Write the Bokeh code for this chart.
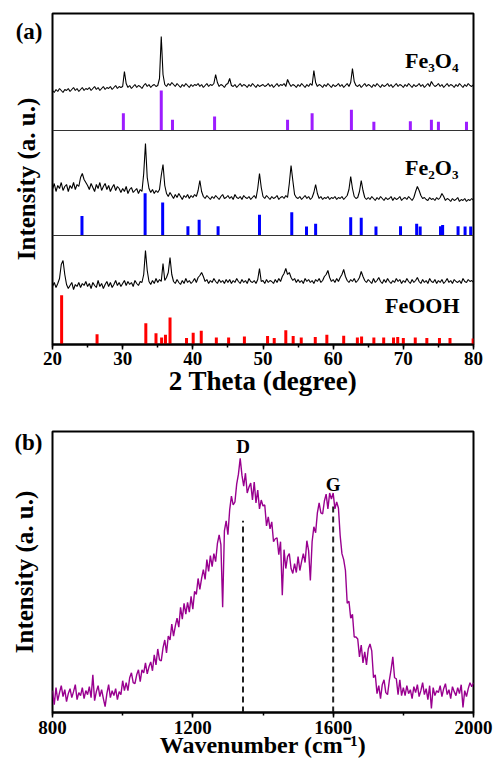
import numpy as np
from bokeh.plotting import figure
from bokeh.models import Range1d, SingleIntervalTicker, FixedTicker, Span, Label
from bokeh.layouts import column
from bokeh.embed import file_html
from bokeh.resources import INLINE

# ---------------- (a) XRD data ----------------
theta_start, theta_step = 20.0, 0.25
fe3o4_trace = [
    40, 38, 41, 39, 42, 40, 38, 41, 40, 42, 39, 41, 43, 40, 42, 39, 41, 43, 40, 42,
    41, 43, 40, 42, 44, 41, 43, 40, 42, 44, 41, 43, 42, 44, 41, 43, 45, 42, 44, 43,
    44, 59, 47, 43, 45, 42, 44, 46, 43, 45, 44, 42, 45, 47, 44, 46, 43, 45, 46, 44,
    45, 52, 94, 56, 46, 44, 47, 45, 48, 46, 44, 47, 45, 43, 46, 44, 47, 45, 43, 46,
    44, 46, 45, 47, 44, 46, 43, 45, 47, 44, 46, 45, 47, 56, 48, 44, 46, 45, 43, 46,
    47, 52, 45, 44, 46, 43, 45, 47, 44, 46, 45, 43, 46, 44, 47, 45, 43, 46, 44, 45,
    46, 44, 45, 47, 44, 46, 43, 45, 47, 44, 46, 45, 47, 44, 51, 47, 44, 46, 45, 43,
    46, 44, 47, 45, 43, 46, 44, 47, 45, 60, 48, 44, 46, 45, 43, 46, 44, 47, 45, 43,
    46, 44, 45, 47, 44, 46, 43, 45, 47, 44, 48, 62, 49, 45, 44, 46, 43, 45, 47, 44,
    46, 45, 43, 46, 44, 47, 45, 43, 46, 44, 45, 47, 44, 46, 43, 45, 47, 44, 46, 45,
    43, 46, 44, 47, 45, 43, 46, 44, 45, 47, 44, 46, 43, 45, 47, 44, 49, 46, 44, 45,
    47, 44, 46, 43, 45, 47, 44, 46, 45, 43, 46, 44, 47, 45, 43, 46, 44, 47, 45, 44,
    46]
fe2o3_trace = [
    46, 52, 44, 50, 47, 53, 45, 49, 51, 44, 50, 47, 53, 46, 51, 49, 58, 62, 56, 53,
    50, 46, 52, 48, 44, 51, 47, 53, 45, 49, 52, 46, 50, 44, 48, 51, 45, 49, 47, 43,
    47, 44, 49, 42, 46, 48, 43, 45, 47, 42, 46, 44, 62, 92, 58, 47, 43, 46, 42, 45,
    43, 46, 60, 71, 50, 42, 39, 43, 40, 37, 41, 38, 42, 39, 36, 40, 38, 41, 37, 40,
    38, 41, 39, 45, 55, 44, 39, 37, 40, 38, 36, 39, 37, 40, 38, 36, 39, 41, 37, 38,
    40, 37, 39, 36, 41, 38, 37, 39, 36, 40, 38, 37, 39, 36, 38, 40, 37, 47, 62, 48,
    39, 37, 40, 38, 36, 39, 37, 38, 40, 36, 38, 39, 37, 40, 38, 52, 70, 55, 41, 38,
    37, 39, 36, 38, 40, 37, 39, 36, 38, 43, 51, 42, 37, 39, 36, 38, 37, 39, 36, 38,
    37, 39, 36, 38, 37, 39, 36, 38, 40, 46, 59, 47, 39, 37, 38, 44, 55, 45, 38, 36,
    38, 36, 39, 37, 35, 38, 36, 39, 37, 35, 38, 36, 37, 39, 35, 38, 36, 37, 39, 35,
    37, 38, 36, 39, 37, 35, 38, 44, 49, 45, 40, 37, 38, 36, 35, 38, 36, 37, 35, 38,
    36, 38, 42, 39, 35, 37, 36, 34, 37, 35, 36, 38, 34, 36, 35, 37, 34, 36, 35, 37,
    35]
feooh_trace = [
    58, 62, 57, 61, 66, 80, 84, 70, 60, 56, 59, 62, 55, 60, 58, 62, 57, 61, 59, 63,
    58, 61, 56, 62, 59, 57, 64, 58, 61, 56, 60, 63, 58, 62, 57, 60, 64, 59, 62, 58,
    61, 64, 59, 63, 60, 62, 58, 64, 61, 59, 63, 62, 70, 94, 74, 63, 60, 64, 61, 66,
    62, 65, 63, 81, 64, 67, 72, 87, 70, 63, 61, 65, 62, 60, 64, 61, 66, 62, 64, 61,
    63, 66, 62, 67, 69, 72, 68, 63, 65, 61, 64, 62, 66, 63, 61, 65, 62, 64, 61, 65,
    62, 65, 61, 64, 62, 66, 63, 61, 65, 62, 64, 61, 66, 63, 62, 64, 61, 65, 76, 63,
    64, 61, 65, 62, 64, 63, 61, 65, 62, 66, 63, 68, 71, 76, 70, 72, 67, 64, 66, 62,
    65, 62, 64, 61, 66, 63, 65, 62, 64, 61, 65, 63, 66, 62, 64, 68, 70, 74, 67, 63,
    65, 62, 66, 63, 67, 70, 75, 68, 64, 62, 65, 63, 66, 62, 64, 67, 73, 68, 64, 62,
    65, 63, 61, 66, 62, 64, 67, 63, 61, 65, 62, 66, 63, 61, 64, 62, 66, 63, 65, 61,
    64, 62, 66, 63, 61, 65, 62, 64, 67, 63, 61, 65, 62, 64, 61, 66, 63, 62, 65, 61,
    64, 62, 65, 61, 63, 66, 62, 64, 61, 65, 63, 62, 64, 61, 66, 63, 62, 65, 63, 64,
    62]

# reference (standard card) lines: position (deg) and relative intensity (%)
fe3o4_ref_pos = [30.1, 35.5, 37.1, 43.1, 53.5, 57.0, 62.6, 65.8, 71.0, 74.0, 75.0, 79.0]
fe3o4_ref_int = [43, 100, 27, 35, 27, 43, 52, 22, 23, 27, 22, 22]
fe2o3_ref_pos = [24.2, 33.2, 35.7, 39.3, 40.9, 43.6, 49.5, 54.1, 56.2, 57.5, 62.5,
                 64.0, 66.1, 69.6, 71.9, 72.4, 75.3, 75.6, 77.8, 78.8, 79.6]
fe2o3_ref_int = [46, 100, 78, 22, 37, 22, 49, 55, 21, 28, 43,
                 42, 21, 22, 28, 21, 22, 25, 22, 21, 21]
feooh_ref_pos = [21.3, 26.35, 33.3, 34.75, 35.55, 36.1, 36.75, 39.1, 40.05, 41.2, 43.35,
                 45.1, 47.35, 50.65, 51.6, 53.25, 54.3, 55.45, 57.45, 59.1, 61.5, 63.45,
                 64.05, 65.8, 67.2, 68.6, 69.2, 70.0, 71.7, 73.35, 75.15, 76.65, 79.95]
feooh_ref_int = [100, 21, 43, 23, 14, 20, 55, 13, 24, 28, 14,
                 14, 16, 17, 13, 29, 17, 14, 15, 20, 18, 14,
                 16, 14, 14, 14, 15, 13, 14, 13, 13, 13, 12]
phase_names = ["Fe\u2083O\u2084", "Fe\u2082O\u2083", "FeOOH"]

# ---------------- (b) Raman data ----------------
wn_start, wn_step = 800, 5
raman_trace = [
    22, 8, 25, 12, 20, 27, 16, 23, 11, 19, 24, 15, 21, 28, 13, 20, 17, 25, 14, 22,
    18, 26, 15, 38, 12, 21, 27, 16, 23, 14, 6, 19, 28, 15, 22, 17, 24, 13, 21, 18,
    32, 22, 30, 22, 35, 40, 30, 29, 38, 43, 31, 43, 40, 50, 39, 46, 51, 42, 58, 48,
    64, 53, 52, 65, 73, 60, 77, 73, 89, 77, 87, 95, 86, 106, 94, 110, 99, 111, 101, 117,
    104, 122, 119, 135, 124, 135, 144, 134, 154, 142, 158, 147, 160, 152, 170, 179, 169, 106, 183, 193,
    179, 204, 218, 209, 212, 230, 240, 256, 239, 228, 241, 221, 227, 231, 214, 232, 211, 224, 205, 214,
    208, 209, 188, 197, 185, 192, 172, 175, 176, 159, 172, 118, 164, 145, 157, 160, 145, 140, 150, 141,
    157, 143, 152, 160, 151, 173, 163, 133, 172, 187, 181, 201, 211, 201, 200, 213, 220, 205, 221, 215,
    221, 205, 212, 206, 178, 160, 154, 143, 110, 112, 95, 99, 76, 76, 74, 56, 68, 50, 61, 48,
    64, 69, 62, 35, 38, 19, 27, 14, 28, 33, 20, 18, 32, 43, 56, 35, 34, 18, 33, 17,
    25, 17, 27, 19, 23, 14, 26, 20, 28, 16, 22, 30, 18, 24, 13, 27, 4, 25, 17, 22,
    20, 27, 16, 24, 29, 18, 23, 14, 26, 21, 17, 25, 19, 28, 5, 22, 16, 24, 30, 26,
    30]
band_names = ["D", "G"]
band_pos = [1343, 1600]
band_line_top = [193, 210]
band_label_y = [268, 230]

FONT = "Liberation Serif"

two_theta = theta_start + theta_step * np.arange(len(fe3o4_trace))
wavenumber = wn_start + wn_step * np.arange(len(raman_trace))


def style_axes(p, xlabel, interval, title_size, label_size, label_standoff,
               title_standoff, letter, letter_y):
    p.outline_line_color = "black"
    p.outline_line_width = 2
    p.xgrid.visible = False
    p.ygrid.visible = False
    p.background_fill_color = "white"
    p.border_fill_color = "white"
    xa = p.xaxis[0]
    xa.ticker = SingleIntervalTicker(interval=interval, num_minor_ticks=2)
    xa.axis_line_width = 2
    xa.axis_line_color = "black"
    xa.major_tick_in = 0
    xa.major_tick_out = 5
    xa.minor_tick_in = 0
    xa.minor_tick_out = 3
    xa.major_tick_line_width = 1.5
    xa.minor_tick_line_width = 1.5
    xa.major_label_text_font = FONT
    xa.major_label_text_font_style = "bold"
    xa.major_label_text_font_size = label_size
    xa.major_label_text_color = "black"
    xa.major_label_standoff = label_standoff
    xa.axis_label = xlabel
    xa.axis_label_text_font = FONT
    xa.axis_label_text_font_style = "bold"
    xa.axis_label_text_font_size = title_size
    xa.axis_label_text_color = "black"
    xa.axis_label_standoff = title_standoff
    # y axis: no numeric ticks; the panel letter is carried as the only tick label
    ya = p.yaxis[0]
    ya.ticker = FixedTicker(ticks=[letter_y])
    ya.major_label_overrides = {letter_y: letter}
    ya.axis_line_color = None
    ya.major_tick_line_color = None
    ya.minor_tick_line_color = None
    ya.major_tick_out = 0
    ya.major_tick_in = 0
    ya.major_label_standoff = 10
    ya.major_label_text_font = FONT
    ya.major_label_text_font_style = "bold"
    ya.major_label_text_font_size = "23px"
    ya.major_label_text_color = "black"
    ya.axis_label = "Intensity (a. u.)"
    ya.axis_label_text_font = FONT
    ya.axis_label_text_font_style = "bold"
    ya.axis_label_text_font_size = "25px"
    ya.axis_label_text_color = "black"
    ya.axis_label_standoff = -27


# ---------------- panel (a) ----------------
p1 = figure(width=496, height=404, min_border_left=50, min_border_right=23,
            min_border_top=13, min_border_bottom=60,
            x_range=Range1d(20, 80), y_range=Range1d(0, 331),
            output_backend="svg", toolbar_location=None, tools="")
style_axes(p1, "2 Theta (degree)", 10, "27px", "19px", 2, -2, "(a)", 313)

offsets = [214, 109, 0]
stick_scale = [0.40, 0.423, 0.493]
stick_colors = ["#9D1CFF", "#0000FF", "#FF0000"]
traces = [fe3o4_trace, fe2o3_trace, feooh_trace]
ref_pos = [fe3o4_ref_pos, fe2o3_ref_pos, feooh_ref_pos]
ref_int = [fe3o4_ref_int, fe2o3_ref_int, feooh_ref_int]

for off in offsets[:2]:
    p1.add_layout(Span(location=off, dimension="width", line_color="#333333", line_width=1))

for tr, pos, inten, off, sc, col in zip(traces, ref_pos, ref_int, offsets, stick_scale, stick_colors):
    pos = np.array(pos)
    top = off + sc * np.array(inten)
    p1.segment(x0=pos, y0=np.full(len(pos), off), x1=pos, y1=top,
               line_color=col, line_width=3, line_cap="butt")
    p1.line(two_theta, off + np.array(tr), line_color="black", line_width=1.1)

label_pos = [(74.05, 284), (74.05, 177), (72.7, 39)]
for name, (lx, ly) in zip(phase_names, label_pos):
    p1.add_layout(Label(x=lx, y=ly, text=name, text_font=FONT, text_font_style="bold",
                        text_font_size="22px", text_align="center", text_baseline="middle",
                        text_color="black"))

# ---------------- panel (b) ----------------
p2 = figure(width=496, height=364, min_border_left=52, min_border_right=23,
            min_border_top=27, min_border_bottom=56,
            x_range=Range1d(800, 2000), y_range=Range1d(0, 283),
            output_backend="svg", toolbar_location=None, tools="")
style_axes(p2, "Wavenumber (cm\u207b\u00b9)", 400, "24px", "19px", 3, -5, "(b)", 272)

p2.segment(x0=band_pos, y0=[0, 0], x1=band_pos, y1=band_line_top,
           line_color="#222222", line_width=2, line_dash="6 4")
p2.line(wavenumber, raman_trace, line_color="#99008F", line_width=1.4)
for name, bx, by in zip(band_names, band_pos, band_label_y):
    p2.add_layout(Label(x=bx, y=by, text=name, text_font=FONT, text_font_style="bold",
                        text_font_size="19px", text_align="center", text_baseline="middle",
                        text_color="black"))

layout = column(p1, p2, spacing=0)
open("out.html", "w").write(file_html(layout, INLINE))
